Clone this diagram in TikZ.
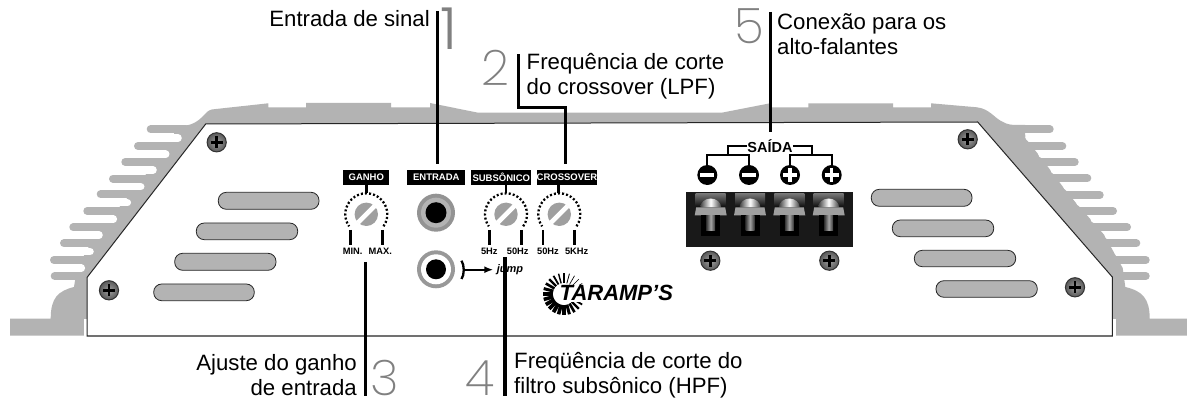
\documentclass[tikz,border=0pt]{standalone}
\usepackage{fontspec}
\setmainfont{Liberation Sans}
\newfontfamily\numf{Poppins ExtraLight}
\newfontfamily\numg{Poppins Light}
\usetikzlibrary{arrows.meta,calc}
\definecolor{hs}{HTML}{B3B3B3}
\definecolor{numc}{HTML}{808080}
\tikzset{
  callout/.style={draw=black,line width=3.1pt},
  desc/.style={font=\fontsize{22.2}{25}\selectfont,align=left,inner sep=0pt},
  descr/.style={font=\fontsize{22.2}{25}\selectfont,align=right,inner sep=0pt},
  bignum/.style={font=\numf\fontsize{49}{49}\selectfont,text=numc,inner sep=0pt},
  fin/.style={draw=hs,line width=8pt,line cap=round},
  gapl/.style={draw=white,line width=7.6pt,line cap=round},
  slot/.style={draw=black!85,fill=hs,line width=0.8pt,rounded corners=8pt},
  tag/.style={fill=black,text=white,font=\bfseries\fontsize{9.5}{10}\selectfont,inner sep=0pt,minimum height=14.7pt},
  ticklab/.style={font=\bfseries\fontsize{9.3}{10}\selectfont,inner sep=0pt},
  tickm/.style={draw=black,line width=2.8pt},
  tree/.style={draw=black,line width=2.3pt},
}
\newcommand{\screwat}[2]{%
  \shade[inner color=gray!75,outer color=gray!70!black,draw=black!80,line width=1pt] (#1,#2) circle (9.6);
  \draw[black,line width=2.6pt] (#1-6,#2) -- (#1+6,#2) (#1,#2-6) -- (#1,#2+6);}
\newcommand{\knobat}[2]{%
  \fill[gray!75] (#1,#2) circle (11.7);
  \draw[white,line width=4.6pt] (#1-8.6,#2+8.6) -- (#1+8.6,#2-8.6);
  \draw[black,line width=2.3pt,dash pattern=on 2pt off 2.1pt] ($(#1,#2)+(35:21)$) arc[start angle=35,end angle=-215,radius=21];}
\newcommand{\termat}[1]{%
  \shade[top color=black!55,bottom color=black!95] (#1-15,194) rectangle (#1+15,207);
  \shade[left color=gray!50!black,right color=gray!50!black,middle color=white] (#1-10.5,207.5) arc[start angle=180,end angle=360,x radius=10.5,y radius=9] -- cycle;
  \fill[gray!75] (#1-14.5,207.3) -- (#1+14.5,207.3) -- (#1+16,215.5) -- (#1-16,215.5) -- cycle;
  \fill[black] (#1-9.5,215.5) rectangle (#1+9.5,236);
  \shade[left color=black!80,right color=black!80,middle color=gray!70] (#1-4.5,216) rectangle (#1+4.5,231);}
\begin{document}
\begin{tikzpicture}[x=1pt,y=-1pt]
\useasboundingbox (0,0) rectangle (1187,398);
\fill[white] (0,0) rectangle (1187,398);
% heat sink body
\fill[hs] (10,335.7) -- (10,318.7) -- (50.7,318.7) .. controls (50.7,298) and (58,291) .. (74,287)
  -- (77,268) -- (86,252) -- (95,235) -- (109,219) -- (123,203) -- (137,187) -- (149,170) -- (162,154) -- (174,138) -- (174,125.7)
  -- (186,125.5) .. controls (197,124) and (203,116) .. (207,112) .. controls (210,109.5) and (213,109) .. (216,109) -- (268.3,103.3)
  -- (268.3,107.3) -- (306,107.3) -- (306,103) -- (391,103) -- (391,107.3) -- (430,107.3) -- (430,103)
  -- (478,112.7) -- (721.7,112.7) -- (770,103.3) -- (770,107.3) -- (808.3,107.3) -- (808.3,103.3) -- (893,103.3) -- (893,107.3) -- (931,107.3) -- (931,103.3)
  -- (977,107.3) .. controls (990,109) and (994,118) .. (1003,122) .. controls (1007,124.5) and (1012,125) .. (1017,125) -- (1025,125)
  -- (1025.3,138) -- (1038,154) -- (1050.3,170) -- (1063,187) -- (1076,203) -- (1090.3,219) -- (1104.3,235) -- (1113.7,252) -- (1122.7,268) -- (1125.3,287)
  .. controls (1142,291) and (1149.7,298) .. (1149.7,318.7) -- (1187,318.7) -- (1187,335.7) -- cycle;
% fins
\foreach \a/\b in {54.7/276,54/260,64/243.3,73.3/227.3,87.3/211,100.7/194.3,113/178.7,125.3/162,138/146,150.7/129.3}{
  \draw[fin] (\a,\b) -- (\a+35,\b);}
\foreach \a/\b in {1049.7/129.3,1062.3/146,1074.7/162,1087.3/178.3,1099.7/195,1113/211,1127/227.3,1136.3/243.3,1145.7/260,1145.7/276}{
  \draw[fin] (\a,\b) -- (\a-35,\b);}
\foreach \a/\b in {81.3/268.3,90/251.7,99/235.3,113.3/219.3,127.3/202.7,140.7/186.7,153/170,165.7/154.3,178/138.3}{
  \draw[gapl] (\a,\b) -- (\a-33,\b);}
\foreach \a/\b in {1029.3/137.7,1042/154.3,1054.3/170,1067/186.7,1080/202.7,1094.3/219.3,1108.3/235.3,1117.7/251.7,1126.7/268.3}{
  \draw[gapl] (\a,\b) -- (\a+33,\b);}
\fill[white] (84.3,319) rectangle (87,337);
\fill[white] (1112.3,319) rectangle (1115.7,337);
% panel
\filldraw[fill=white,draw=black!85,line width=1pt,line join=miter] (205.7,124) -- (977.7,122) -- (1112.3,277) -- (1112.3,336) -- (87,336) -- (87,277.5) -- cycle;
% slots
\foreach \a/\b/\c/\d in {218.3/192.3/319/209.3,196.3/223/297.7/239.7,174.7/253.3/276/270.3,153.7/284/254.3/300.7,
  871.3/189.3/972/206.3,892.3/220/993.7/236.7,914.3/250.3/1015.7/266.7,936/280.7/1037.3/297.3}{
  \draw[slot] (\a,\b) rectangle (\c,\d);}
% screws
\screwat{216.7}{142.3}\screwat{109}{290.3}\screwat{967.7}{139.3}\screwat{1075}{287.3}\screwat{710.3}{260.7}\screwat{829.3}{260.7}
% tags
\node[tag,minimum width=46pt] (tg) at (366.3,177.4) {GANHO};
\node[tag,minimum width=58pt] (te) at (436.3,177.4) {ENTRADA};
\node[tag,minimum width=60pt] (ts) at (501.3,177.4) {SUBSÔNICO};
\node[tag,minimum width=60.6pt] (tc) at (567,177.4) {CROSSOVER};
% stems
\draw[tickm] (366.3,184) -- (366.3,193);
\draw[tickm] (506,184) -- (506,193);
\draw[tickm] (558.7,184) -- (558.7,193);
% knobs
\knobat{366.3}{214.3}\knobat{506}{214.3}\knobat{559.3}{214.3}
% ticks
\foreach \a in {350.3,382.3,489.7,521.3,543,574.3}{\draw[tickm] (\a,230) -- (\a,245);}
\node[ticklab] (l1) at (352.7,251.7) {MIN.};
\node[ticklab] (l2) at (380.3,251.2) {MAX.};
\node[ticklab] (l3) at (489.3,251.7) {5Hz};
\node[ticklab] (l4) at (517.7,251.7) {50Hz};
\node[ticklab] (l5) at (548,251.7) {50Hz};
\node[ticklab] (l6) at (576.7,251.7) {5KHz};
% jacks
\fill[gray!85] (436,212.7) circle (19);
\fill[hs] (436,212.7) circle (15);
\fill[black] (436,212.7) circle (10.5);
\fill[hs!85!black] (436,269.3) circle (19);
\fill[white] (436,269.3) circle (15);
\fill[black] (436,269.3) circle (10);
% jump
\coordinate (ja) at (463.5,269.7);
\coordinate (jb) at (493.3,269.7);
\draw[black,line width=2.3pt] (461.5,260.7) .. controls (464.5,265) and (464.5,275) .. (461.5,279);
\draw[black,line width=2pt,-{Latex[length=9pt,width=7pt]}] (ja) -- (jb);
\node[font=\bfseries\itshape\fontsize{11}{12}\selectfont,inner sep=0pt,anchor=west] (jump) at (496.7,270) {jump};
% logo
\foreach \r in {0,15,...,345}{
  \pgfmathsetmacro{\lw}{0.6+3.2*(1+cos(\r-135))/2}
  \draw[black,line width=\lw pt] ($(564,294)+(\r:11)$) -- ($(564,294)+(\r:21)$);
}
\node[inner sep=1pt,anchor=base west,fill=white,font=\bfseries\itshape\fontsize{22}{23}\selectfont] (logo) at (558.5,301) {TARAMP'S};
% terminal block
\fill[black!90] (686,192) rectangle (853.3,247.3);
\foreach \a in {710.7,750,789.3,828.7}{\termat{\a}}
% output tree
\node[inner sep=0pt,font=\bfseries\fontsize{14.5}{15}\selectfont] (sa) at (770,146) {SAÍDA};
\coordinate (ta) at (727.7,155.3);
\coordinate (tb) at (811.7,155.3);
\draw[tree] (sa.west) -| (ta);
\draw[tree] (sa.east) -| (tb);
\draw[tree] (707.3,165) |- (749,155.3) -- (749,165);
\draw[tree] (790,165) |- (831.7,155.3) -- (831.7,165);
\foreach \a/\n in {707.3/a,749/b}{
  \fill[black] (\a,175) circle (10);
  \fill[white] (\a-7,173) rectangle (\a+7,177.5);}
\foreach \a/\n in {790/c,831.7/d}{
  \fill[black] (\a,175) circle (10);
  \draw[white,line width=3.4pt] (\a-7,175) -- (\a+7,175) (\a,168) -- (\a,182);}
% callouts
\coordinate (c1a) at (437.3,11);\coordinate (c1b) at (437.3,164);
\draw[callout] (c1a) -- (c1b);
\coordinate (c2a) at (518.7,54.3);\coordinate (c2c) at (565.7,107.3);\coordinate (c2b) at (565.7,164);
\draw[callout] (c2a) |- (c2c) -- (c2b);
\coordinate (c5a) at (770.5,12);\coordinate (c5b) at (770.5,131.7);
\draw[callout] (c5a) -- (c5b);
\coordinate (c3a) at (365.3,262);\coordinate (c3b) at (365.3,396);
\draw[callout] (c3a) -- (c3b);
\coordinate (c4a) at (505,257);\coordinate (c4b) at (505,396);
\draw[callout] (c4a) -- (c4b);
% texts
\node[descr,anchor=base east] (d1) at (430,26.7) {Entrada de sinal};
\node[desc,anchor=north west] (d2) at (526.5,53) {\rule{0pt}{16pt}Frequência de corte\\do crossover (LPF)};
\node[desc,anchor=north west] (d5) at (777,13) {\rule{0pt}{16pt}Conexão para os\\alto-falantes};
\node[descr,anchor=north east] (d3) at (357,354) {\rule{0pt}{16pt}Ajuste do ganho\\de entrada};
\node[desc,anchor=north west] (d4) at (514,352) {\rule{0pt}{16pt}Freqüência de corte do\\filtro subsônico (HPF)};
\node[bignum,font=\numg\fontsize{58}{58}\selectfont,anchor=base] (n1) at (449,49.5) {1};
\node[bignum,anchor=base] (n2) at (495.5,86) {2};
\node[bignum,anchor=base] (n5) at (749,43.3) {5};
\node[bignum,anchor=base] (n3) at (385,395) {3};
\node[bignum,anchor=base] (n4) at (480,395) {4};
\end{tikzpicture}
\end{document}
